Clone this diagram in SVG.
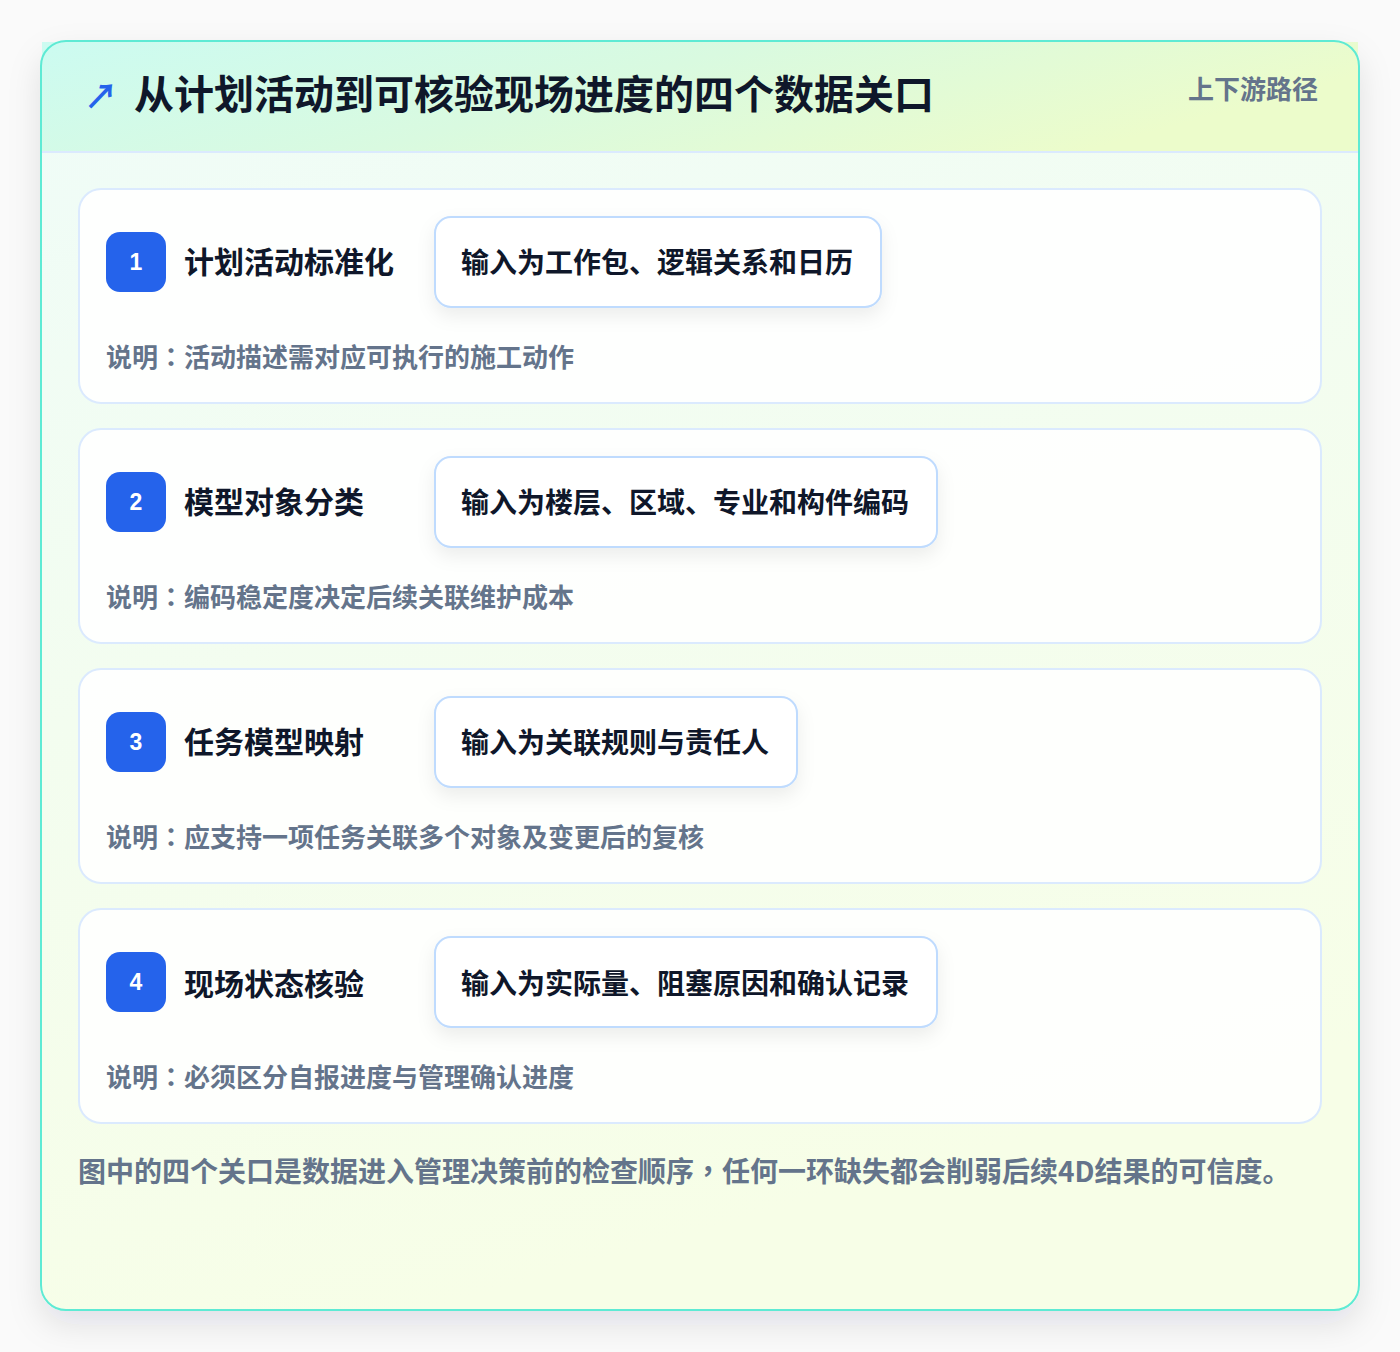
<svg xmlns="http://www.w3.org/2000/svg" width="1400" height="1352" viewBox="0 0 1400 1352">
<defs>
<linearGradient id="hdr" x1="0" y1="0" x2="1" y2="0.3">
<stop offset="0" stop-color="#ccfbf1"/>
<stop offset="0.5" stop-color="#d9fae0"/>
<stop offset="1" stop-color="#ecfccb"/>
</linearGradient>
<linearGradient id="body" x1="0" y1="0" x2="0.3" y2="1">
<stop offset="0" stop-color="#effcf8"/>
<stop offset="1" stop-color="#f7fee7"/>
</linearGradient>
<filter id="panelShadow" x="-10%" y="-10%" width="120%" height="120%">
<feDropShadow dx="0" dy="14" stdDeviation="16" flood-color="#0f172a" flood-opacity="0.10"/>
</filter>
<filter id="boxShadow" x="-20%" y="-40%" width="140%" height="190%">
<feDropShadow dx="0" dy="8" stdDeviation="9" flood-color="#0f172a" flood-opacity="0.07"/>
</filter>
</defs>
<style>
.cjk{font-family:"Noto Sans CJK SC","Liberation Sans",sans-serif;font-weight:700}
.tc{font-family:"Noto Sans CJK TC","Noto Sans CJK SC",sans-serif}
.title{font-size:40px;fill:#0f172a}
.tag{font-size:26px;fill:#64748b}
.card{fill:#ffffff;fill-opacity:0.88;stroke:#dbeafe;stroke-width:2}
.badge{fill:#2563eb}
.num{font-family:"Liberation Sans",Arial,sans-serif;font-weight:700;font-size:23px;fill:#ffffff}
.head{font-size:30px;fill:#0f172a}
.inbox{fill:#ffffff;stroke:#bfdbfe;stroke-width:2}
.intext{font-size:28px;fill:#0f172a}
.desc{font-size:26px;fill:#64748b}
.foot{font-size:28px;fill:#64748b}
</style>
<rect x="0" y="0" width="1400" height="1352" fill="#fafafa"/>
<g id="panel">
<rect x="40" y="40" width="1320" height="1271" rx="26" fill="url(#body)" filter="url(#panelShadow)"/>
<rect x="42" y="42" width="1316" height="110" fill="url(#hdr)"/>
<line x1="42" y1="152" x2="1358" y2="152" stroke="#dbeafe" stroke-width="2"/>
<rect x="41" y="41" width="1318" height="1269" rx="25" fill="none" stroke="#5eead4" stroke-width="2"/>
</g>
<g id="header">
<text x="84" y="94" class="cjk" font-size="34" fill="#2563eb" dominant-baseline="central">↗</text>
<text x="134" y="92" class="cjk title" dominant-baseline="central">从计划活动到可核验现场进度的四个数据关口</text>
<text x="1318" y="87" class="cjk tag" text-anchor="end" dominant-baseline="central">上下游路径</text>
</g>
<g id="step1">
<rect class="card" x="79" y="189" width="1242" height="214" rx="22"/>
<rect class="badge" x="106" y="232" width="60" height="60" rx="14"/>
<text class="num" x="136" y="262" text-anchor="middle" dominant-baseline="central">1</text>
<text class="cjk head" x="184" y="260" dominant-baseline="central">计划活动标准化</text>
<rect class="inbox" x="435" y="217" width="446" height="90" rx="16" filter="url(#boxShadow)"/>
<text class="cjk intext" x="461" y="261" dominant-baseline="central">输入为工作包、逻辑关系和日历</text>
<text class="cjk desc" x="106" y="355" dominant-baseline="central">说明<tspan class="tc">：</tspan>活动描述需对应可执行的施工动作</text>
</g>
<g id="step2">
<rect class="card" x="79" y="429" width="1242" height="214" rx="22"/>
<rect class="badge" x="106" y="472" width="60" height="60" rx="14"/>
<text class="num" x="136" y="502" text-anchor="middle" dominant-baseline="central">2</text>
<text class="cjk head" x="184" y="500" dominant-baseline="central">模型对象分类</text>
<rect class="inbox" x="435" y="457" width="502" height="90" rx="16" filter="url(#boxShadow)"/>
<text class="cjk intext" x="461" y="501" dominant-baseline="central">输入为楼层、区域、专业和构件编码</text>
<text class="cjk desc" x="106" y="595" dominant-baseline="central">说明<tspan class="tc">：</tspan>编码稳定度决定后续关联维护成本</text>
</g>
<g id="step3">
<rect class="card" x="79" y="669" width="1242" height="214" rx="22"/>
<rect class="badge" x="106" y="712" width="60" height="60" rx="14"/>
<text class="num" x="136" y="742" text-anchor="middle" dominant-baseline="central">3</text>
<text class="cjk head" x="184" y="740" dominant-baseline="central">任务模型映射</text>
<rect class="inbox" x="435" y="697" width="362" height="90" rx="16" filter="url(#boxShadow)"/>
<text class="cjk intext" x="461" y="741" dominant-baseline="central">输入为关联规则与责任人</text>
<text class="cjk desc" x="106" y="835" dominant-baseline="central">说明<tspan class="tc">：</tspan>应支持一项任务关联多个对象及变更后的复核</text>
</g>
<g id="step4">
<rect class="card" x="79" y="909" width="1242" height="214" rx="22"/>
<rect class="badge" x="106" y="952" width="60" height="60" rx="14"/>
<text class="num" x="136" y="982" text-anchor="middle" dominant-baseline="central">4</text>
<text class="cjk head" x="184" y="982" dominant-baseline="central">现场状态核验</text>
<rect class="inbox" x="435" y="937" width="502" height="90" rx="16" filter="url(#boxShadow)"/>
<text class="cjk intext" x="461" y="982" dominant-baseline="central">输入为实际量、阻塞原因和确认记录</text>
<text class="cjk desc" x="106" y="1075" dominant-baseline="central">说明<tspan class="tc">：</tspan>必须区分自报进度与管理确认进度</text>
</g>
<g id="connectors"></g>
<g id="footer">
<text class="cjk foot" x="78" y="1170" dominant-baseline="central">图中的四个关口是数据进入管理决策前的检查顺序<tspan class="tc">，</tspan>任何一环缺失都会削弱后续4D结果的可信度。</text>
</g>
</svg>
